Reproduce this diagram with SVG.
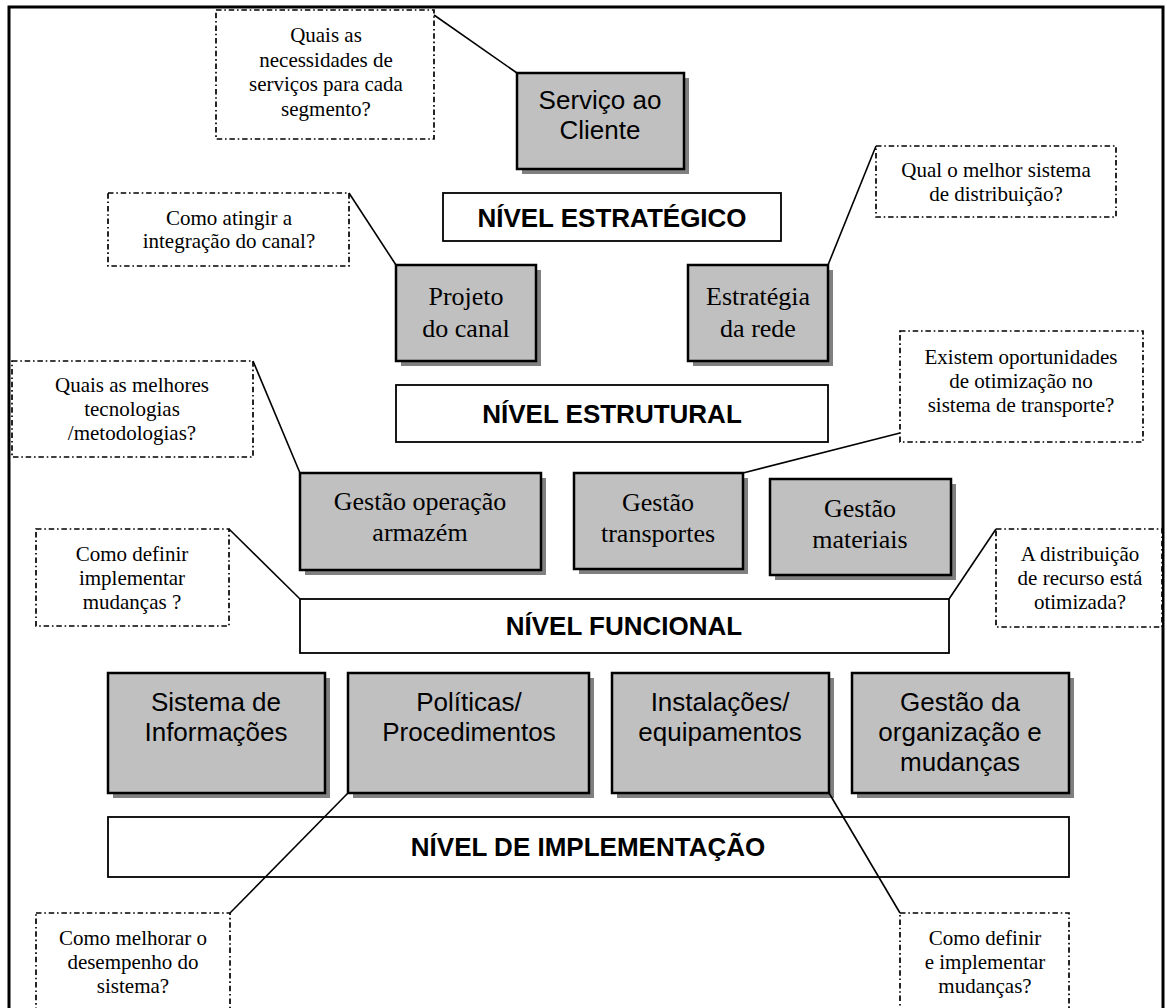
<svg xmlns="http://www.w3.org/2000/svg" width="1167" height="1008" viewBox="0 0 1167 1008">
<style>
.frame{fill:none;stroke:#000;stroke-width:3}
.callout{fill:#fff;stroke:#000;stroke-width:1.7;stroke-dasharray:5.5 2.8 1.6 2.8}
.ct{font-family:"Liberation Serif","Times New Roman",serif;font-size:21px;fill:#000;text-anchor:middle}
.gbox{fill:#c0c0c0;stroke:#000;stroke-width:2.5}
.shadow{fill:#808080}
.sans{font-family:"Liberation Sans",Arial,sans-serif;font-size:26px;fill:#000;text-anchor:middle}
.serif{font-family:"Liberation Serif","Times New Roman",serif;font-size:26px;fill:#000;text-anchor:middle}
.lvl{fill:#fff;stroke:#000;stroke-width:1.8}
.lt{font-family:"Liberation Sans",Arial,sans-serif;font-size:26px;font-weight:bold;fill:#000;text-anchor:middle}
.conn{stroke:#000;stroke-width:1.6;fill:none}
</style>
<rect x="0" y="0" width="1167" height="1008" fill="#fff"/>
<rect class="frame" x="9" y="7" width="1154" height="1020"/>

<g id="q-servicos">
<rect class="callout" x="216" y="10" width="218" height="129"/>
<text class="ct" x="326"><tspan x="326" y="42">Quais as</tspan><tspan x="326" y="67">necessidades de</tspan><tspan x="326" y="91">serviços para cada</tspan><tspan x="326" y="116">segmento?</tspan></text>
</g>

<g id="servico-cliente">
<rect class="shadow" x="522" y="78" width="167" height="96"/>
<rect class="gbox" x="517" y="73" width="167" height="96"/>
<text class="sans"><tspan x="600" y="109">Serviço ao</tspan><tspan x="600" y="139">Cliente</tspan></text>
</g>

<g id="nivel-estrategico">
<rect class="lvl" x="443" y="193" width="338" height="48"/>
<text class="lt" x="612" y="227">NÍVEL ESTRATÉGICO</text>
</g>

<g id="q-distribuicao">
<rect class="callout" x="876" y="146" width="240" height="71"/>
<text class="ct"><tspan x="996" y="177">Qual o melhor sistema</tspan><tspan x="996" y="201">de distribuição?</tspan></text>
</g>

<g id="q-integracao">
<rect class="callout" x="108" y="193" width="241" height="73"/>
<text class="ct"><tspan x="229" y="225">Como atingir a</tspan><tspan x="229" y="248">integração do canal?</tspan></text>
</g>

<g id="projeto-canal">
<rect class="shadow" x="401" y="270" width="140" height="96"/>
<rect class="gbox" x="396" y="265" width="140" height="96"/>
<text class="serif"><tspan x="466" y="305">Projeto</tspan><tspan x="466" y="337">do canal</tspan></text>
</g>

<g id="estrategia-rede">
<rect class="shadow" x="693" y="270" width="140" height="96"/>
<rect class="gbox" x="688" y="265" width="140" height="96"/>
<text class="serif"><tspan x="758" y="305">Estratégia</tspan><tspan x="758" y="337">da rede</tspan></text>
</g>

<g id="q-transporte">
<rect class="callout" x="900" y="331" width="243" height="111"/>
<text class="ct"><tspan x="1021" y="364">Existem oportunidades</tspan><tspan x="1021" y="388">de otimização no</tspan><tspan x="1021" y="412">sistema de transporte?</tspan></text>
</g>

<g id="q-tecnologias">
<rect class="callout" x="12" y="361" width="241" height="96"/>
<text class="ct"><tspan x="132" y="392">Quais as melhores</tspan><tspan x="132" y="416">tecnologias</tspan><tspan x="132" y="440">/metodologias?</tspan></text>
</g>

<g id="nivel-estrutural">
<rect class="lvl" x="396" y="385" width="432" height="57"/>
<text class="lt" x="612" y="423">NÍVEL ESTRUTURAL</text>
</g>

<g id="gestao-armazem">
<rect class="shadow" x="305" y="478" width="241" height="97"/>
<rect class="gbox" x="300" y="473" width="241" height="97"/>
<text class="serif"><tspan x="420" y="510">Gestão operação</tspan><tspan x="420" y="541">armazém</tspan></text>
</g>

<g id="gestao-transportes">
<rect class="shadow" x="579" y="478" width="169" height="96"/>
<rect class="gbox" x="574" y="473" width="169" height="96"/>
<text class="serif"><tspan x="658" y="511">Gestão</tspan><tspan x="658" y="542">transportes</tspan></text>
</g>

<g id="gestao-materiais">
<rect class="shadow" x="775" y="484" width="181" height="96"/>
<rect class="gbox" x="770" y="479" width="181" height="96"/>
<text class="serif"><tspan x="860" y="517">Gestão</tspan><tspan x="860" y="548">materiais</tspan></text>
</g>

<g id="q-mudancas-1">
<rect class="callout" x="36" y="529" width="193" height="97"/>
<text class="ct"><tspan x="132" y="561">Como definir</tspan><tspan x="132" y="585">implementar</tspan><tspan x="132" y="609">mudanças ?</tspan></text>
</g>

<g id="q-recurso">
<rect class="callout" x="996" y="529" width="166" height="98"/>
<text class="ct"><tspan x="1080" y="561">A distribuição</tspan><tspan x="1080" y="585">de recurso está</tspan><tspan x="1080" y="609">otimizada?</tspan></text>
</g>

<g id="nivel-funcional">
<rect class="lvl" x="300" y="599" width="649" height="54"/>
<text class="lt" x="624" y="635">NÍVEL FUNCIONAL</text>
</g>

<g id="sistema-informacoes">
<rect class="shadow" x="113" y="678" width="217" height="120"/>
<rect class="gbox" x="108" y="673" width="217" height="120"/>
<text class="sans"><tspan x="216" y="711">Sistema de</tspan><tspan x="216" y="741">Informações</tspan></text>
</g>

<g id="politicas">
<rect class="shadow" x="353" y="678" width="241" height="120"/>
<rect class="gbox" x="348" y="673" width="241" height="120"/>
<text class="sans"><tspan x="469" y="711">Políticas/</tspan><tspan x="469" y="741">Procedimentos</tspan></text>
</g>

<g id="instalacoes">
<rect class="shadow" x="617" y="678" width="217" height="120"/>
<rect class="gbox" x="612" y="673" width="217" height="120"/>
<text class="sans"><tspan x="720" y="711">Instalações/</tspan><tspan x="720" y="741">equipamentos</tspan></text>
</g>

<g id="gestao-organizacao">
<rect class="shadow" x="857" y="678" width="217" height="120"/>
<rect class="gbox" x="852" y="673" width="217" height="120"/>
<text class="sans"><tspan x="960" y="711">Gestão da</tspan><tspan x="960" y="741">organização e</tspan><tspan x="960" y="771">mudanças</tspan></text>
</g>

<g id="nivel-implementacao">
<rect class="lvl" x="108" y="817" width="961" height="60"/>
<text class="lt" x="588" y="856">NÍVEL DE IMPLEMENTAÇÃO</text>
</g>

<g id="q-desempenho">
<rect class="callout" x="36" y="913" width="194" height="110"/>
<text class="ct"><tspan x="133" y="945">Como melhorar o</tspan><tspan x="133" y="969">desempenho do</tspan><tspan x="133" y="993">sistema?</tspan></text>
</g>

<g id="q-mudancas-2">
<rect class="callout" x="900" y="913" width="169" height="110"/>
<text class="ct"><tspan x="985" y="945">Como definir</tspan><tspan x="985" y="969">e implementar</tspan><tspan x="985" y="993">mudanças?</tspan></text>
</g>

<g id="connectors">
<line class="conn" x1="434" y1="15" x2="517" y2="73"/>
<line class="conn" x1="349" y1="193" x2="396" y2="265"/>
<line class="conn" x1="876" y1="146" x2="828" y2="265"/>
<line class="conn" x1="253" y1="361" x2="300" y2="473"/>
<line class="conn" x1="900" y1="433" x2="743" y2="473"/>
<line class="conn" x1="229" y1="529" x2="300" y2="599"/>
<line class="conn" x1="996" y1="529" x2="949" y2="599"/>
<line class="conn" x1="348" y1="793" x2="230" y2="913"/>
<line class="conn" x1="829" y1="793" x2="900" y2="913"/>
</g>
</svg>
